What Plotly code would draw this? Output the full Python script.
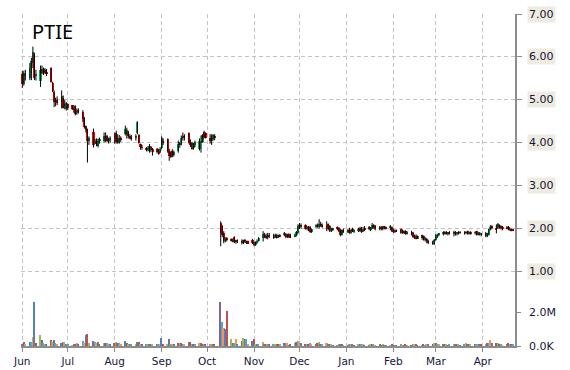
import numpy as np
import pandas as pd
import plotly.graph_objects as go

start_date = "2016-06-01"

# Daily OHLC (one line per month, business days Jun 2016 - Apr 2017)
opens = [
    5.60,5.38,5.60,5.50,5.62,5.85,6.05,5.55,5.45,5.72,5.62,5.70,5.66,5.74,5.40,5.18,4.95,5.00,4.95,5.05,4.85,4.78,
    4.90,4.87,4.78,4.86,4.70,4.75,4.72,4.58,4.38,4.30,4.05,4.25,4.00,4.00,3.92,4.05,4.05,4.15,4.15,4.05,4.08,
    4.10,4.22,4.12,4.00,4.10,4.20,4.20,4.25,4.15,4.12,4.12,4.22,4.17,3.98,3.90,3.88,3.84,3.80,3.90,3.85,3.85,3.84,3.78,
    3.87,4.05,4.08,3.80,3.78,3.80,3.72,3.80,3.98,3.96,4.10,4.15,4.22,4.00,4.00,3.88,3.95,3.85,4.00,4.02,4.25,4.22,
    4.12,4.05,4.08,4.15,None,2.13,2.06,1.90,1.72,1.76,1.74,1.71,1.80,1.70,1.72,1.70,1.70,1.74,1.68,1.70,1.74,
    1.66,1.64,1.68,1.72,1.78,1.86,1.82,1.80,1.86,1.86,1.80,1.84,1.82,1.84,1.85,1.88,1.84,1.88,1.86,1.82,1.84,1.90,
    2.05,2.08,2.08,2.00,2.02,2.04,1.94,2.05,2.08,2.04,2.10,2.08,2.06,2.10,2.05,1.96,1.98,2.02,2.02,1.94,1.86,1.96,
    1.94,1.96,1.92,2.00,1.94,1.96,2.02,2.00,1.94,2.00,2.04,1.98,2.02,2.08,2.06,2.00,2.04,1.98,2.04,2.02,2.02,2.04,
    1.98,1.94,1.96,1.98,1.92,1.94,1.94,1.88,1.92,1.90,1.80,1.82,1.78,1.84,1.82,1.74,1.76,1.70,1.68,1.64,
    1.74,1.80,1.86,1.88,1.90,1.92,1.88,1.90,1.88,1.90,1.88,1.90,1.92,1.90,1.92,1.94,1.88,1.90,1.90,1.94,1.86,1.90,1.86,
    1.90,1.84,1.86,1.98,2.04,2.02,2.02,2.08,2.04,2.02,2.02,2.04,1.98,1.98,1.98,
]
highs = [
    5.67,5.68,5.70,5.86,5.98,6.24,6.10,5.70,5.80,5.80,5.75,5.74,5.72,5.76,5.42,5.22,5.05,5.08,5.22,5.10,5.00,4.95,
    4.92,4.88,4.88,4.87,4.80,4.80,4.76,4.60,4.40,4.33,4.15,4.33,4.09,4.10,4.10,4.12,4.24,4.24,4.18,4.12,4.15,
    4.24,4.28,4.20,4.18,4.15,4.40,4.35,4.28,4.20,4.18,4.20,4.50,4.20,3.98,3.95,3.90,3.92,3.97,3.92,3.88,3.88,3.86,3.90,
    4.15,4.10,4.10,3.86,3.80,3.85,3.82,4.05,4.02,4.17,4.24,4.20,4.24,4.08,4.02,4.00,4.05,4.10,4.17,4.20,4.28,4.24,
    4.20,4.20,4.20,4.20,None,2.17,2.08,1.94,1.80,1.80,1.77,1.77,1.82,1.74,1.75,1.75,1.74,1.76,1.72,1.72,1.76,
    1.70,1.70,1.75,1.80,1.94,1.90,1.88,1.90,1.90,1.88,1.88,1.88,1.86,1.87,1.92,1.90,1.88,1.89,1.88,1.88,1.94,2.10,
    2.13,2.12,2.10,2.06,2.06,2.06,2.00,2.10,2.12,2.22,2.16,2.12,2.17,2.12,2.08,2.02,2.02,2.05,2.04,2.00,1.98,2.00,
    2.00,2.02,1.98,2.02,1.98,2.02,2.04,2.04,2.04,2.06,2.06,2.04,2.13,2.10,2.08,2.06,2.06,2.06,2.06,2.05,2.08,2.05,
    2.00,1.98,1.98,2.00,1.98,1.96,1.96,1.94,1.95,1.92,1.86,1.87,1.84,1.86,1.84,1.80,1.78,1.74,1.72,1.76,
    1.87,1.88,1.90,1.94,1.94,1.94,1.92,1.94,1.95,1.94,1.92,1.94,1.94,1.94,1.94,1.95,1.93,1.94,1.94,1.95,1.92,1.92,1.90,
    1.92,1.90,2.00,2.08,2.08,2.10,2.13,2.10,2.08,2.06,2.06,2.06,2.02,2.00,1.99,
]
lows = [
    5.28,5.33,5.45,5.46,5.46,5.74,5.46,5.45,5.30,5.60,5.58,5.60,5.55,5.40,5.18,4.83,4.85,4.88,4.80,4.80,4.78,4.75,
    4.76,4.76,4.70,4.64,4.65,4.68,4.48,4.33,4.24,3.54,3.95,3.89,3.98,3.92,3.89,3.98,4.00,4.02,4.02,3.98,4.00,
    3.98,3.98,3.98,3.98,4.02,4.17,4.10,4.10,4.08,4.05,4.05,4.20,3.98,3.84,3.84,3.80,3.80,3.77,3.78,3.70,3.75,3.72,3.76,
    3.85,3.95,3.77,3.58,3.65,3.66,3.68,3.77,3.88,3.94,4.05,4.05,3.98,3.90,3.84,3.84,3.90,3.82,3.77,4.00,4.10,4.10,
    3.98,3.95,4.05,4.06,None,1.59,1.80,1.66,1.68,1.70,1.70,1.68,1.66,1.65,1.66,1.63,1.64,1.66,1.64,1.64,1.64,
    1.59,1.60,1.65,1.70,1.70,1.78,1.76,1.75,1.78,1.76,1.78,1.77,1.78,1.80,1.82,1.78,1.78,1.78,1.78,1.80,1.82,1.89,
    1.99,2.00,1.98,1.96,1.94,1.90,1.90,2.02,2.02,2.00,2.04,2.02,1.94,1.96,1.92,1.92,1.94,1.96,1.92,1.82,1.84,1.90,
    1.90,1.88,1.88,1.92,1.90,1.92,1.92,1.90,1.92,1.94,1.96,1.94,1.99,2.00,1.96,1.96,1.96,1.96,1.98,1.98,1.96,1.92,
    1.90,1.90,1.92,1.88,1.88,1.88,1.86,1.86,1.84,1.78,1.76,1.75,1.76,1.74,1.72,1.70,1.66,1.64,1.62,1.62,
    1.72,1.78,1.82,1.84,1.86,1.86,1.84,1.86,1.82,1.84,1.84,1.86,1.88,1.86,1.87,1.86,1.86,1.86,1.86,1.84,1.84,1.84,1.82,
    1.80,1.80,1.84,1.96,1.98,1.89,1.99,2.00,1.98,1.96,1.98,1.96,1.94,1.94,1.94,
]
closes = [
    5.38,5.62,5.55,5.75,5.90,6.12,5.50,5.60,5.70,5.65,5.72,5.66,5.60,5.42,5.20,4.95,5.00,4.92,5.10,4.82,4.90,4.92,
    4.80,4.78,4.80,4.66,4.75,4.72,4.55,4.36,4.30,4.05,4.10,3.95,4.05,3.98,4.05,4.08,4.15,4.08,4.04,4.08,4.10,
    4.15,4.02,4.00,4.12,4.08,4.32,4.30,4.15,4.12,4.10,4.15,4.48,3.99,3.90,3.88,3.84,3.86,3.92,3.82,3.78,3.78,3.74,3.85,
    4.12,4.00,3.80,3.70,3.66,3.70,3.78,3.98,3.95,4.12,4.15,4.10,4.00,3.95,3.86,3.95,4.02,4.05,4.05,4.17,4.12,4.12,
    4.05,4.15,4.18,4.12,None,1.90,1.84,1.72,1.75,1.74,1.72,1.75,1.68,1.72,1.70,1.68,1.72,1.68,1.70,1.66,1.66,
    1.64,1.68,1.72,1.78,1.88,1.82,1.80,1.86,1.82,1.78,1.86,1.80,1.84,1.82,1.90,1.80,1.82,1.80,1.79,1.86,1.92,2.05,
    2.08,2.06,2.00,2.02,1.96,1.92,1.98,2.08,2.06,2.10,2.08,2.05,2.02,1.98,1.95,1.98,2.00,2.00,1.94,1.86,1.96,1.94,
    1.96,1.92,1.95,1.94,1.96,1.98,1.94,1.92,2.00,1.98,1.98,2.00,2.08,2.04,1.98,2.02,1.98,2.04,2.02,2.00,2.04,1.94,
    1.92,1.96,1.94,1.90,1.94,1.90,1.88,1.92,1.86,1.80,1.82,1.78,1.82,1.78,1.74,1.76,1.70,1.68,1.66,1.74,
    1.85,1.86,1.88,1.90,1.88,1.87,1.90,1.88,1.90,1.88,1.90,1.92,1.90,1.92,1.90,1.88,1.90,1.88,1.92,1.86,1.90,1.86,1.88,
    1.82,1.86,1.98,2.04,2.02,1.96,2.10,2.04,2.02,2.00,2.00,1.98,1.99,1.96,1.95,
]
# Daily volume in millions of shares
volumes_m = [
    0.08,0.26,0.06,0.26,0.26,0.55,2.62,0.15,0.65,0.35,0.15,0.12,0.10,0.35,0.26,0.35,0.20,0.10,0.20,0.26,0.26,0.12,
    0.10,0.05,0.12,0.12,0.20,0.08,0.32,0.15,0.67,0.73,0.15,0.32,0.22,0.20,0.22,0.12,0.15,0.20,0.20,0.10,0.12,
    0.20,0.22,0.15,0.20,0.08,0.32,0.15,0.10,0.06,0.08,0.10,0.22,0.22,0.10,0.10,0.08,0.10,0.10,0.08,0.06,0.10,0.06,0.08,
    0.50,0.10,0.08,0.40,0.12,0.10,0.06,0.20,0.20,0.15,0.10,0.06,0.26,0.26,0.10,0.10,0.08,0.15,0.15,0.10,0.10,0.06,
    0.10,0.10,0.08,0.10,None,2.60,1.42,1.09,0.99,2.08,0.42,0.20,0.20,0.42,0.12,0.30,0.50,0.42,0.42,0.10,0.30,
    0.42,0.10,0.08,0.10,0.26,0.12,0.10,0.08,0.06,0.10,0.12,0.08,0.10,0.08,0.15,0.20,0.15,0.05,0.08,0.20,0.26,0.30,
    0.30,0.15,0.10,0.08,0.10,0.15,0.08,0.12,0.15,0.22,0.12,0.10,0.15,0.10,0.12,0.06,0.05,0.04,0.08,0.12,0.06,0.05,
    0.03,0.10,0.06,0.08,0.05,0.06,0.10,0.08,0.06,0.05,0.03,0.06,0.10,0.06,0.05,0.06,0.05,0.08,0.05,0.04,0.05,0.06,
    0.05,0.04,0.05,0.06,0.04,0.05,0.06,0.04,0.05,0.08,0.06,0.10,0.05,0.03,0.06,0.05,0.08,0.06,0.10,0.15,
    0.20,0.10,0.08,0.06,0.08,0.06,0.05,0.08,0.10,0.06,0.08,0.06,0.05,0.12,0.20,0.10,0.08,0.06,0.10,0.12,0.08,0.10,0.06,
    0.12,0.15,0.20,0.35,0.15,0.20,0.15,0.10,0.08,0.05,0.12,0.15,0.10,0.12,0.06,
]

month_ticks = ["2016-06-01","2016-07-01","2016-08-01","2016-09-01","2016-10-01","2016-11-01",
               "2016-12-01","2017-01-01","2017-02-01","2017-03-01","2017-04-01"]
month_labels = ["Jun","Jul","Aug","Sep","Oct","Nov","Dec","Jan","Feb","Mar","Apr"]
price_ticks = [1, 2, 3, 4, 5, 6, 7]
price_labels = ["1.00","2.00","3.00","4.00","5.00","6.00","7.00"]
vol_ticks = [0, 2]
vol_labels = ["0.0K","2.0M"]
ticker = "PTIE"

n = len(closes)
assert len(opens) == n and len(highs) == n and len(lows) == n and len(volumes_m) == n, \
    (len(opens), len(highs), len(lows), len(closes), len(volumes_m))
dates = pd.bdate_range(start_date, periods=n)

o = np.array(opens, dtype=float)
h = np.array(highs, dtype=float)
l = np.array(lows, dtype=float)
c = np.array(closes, dtype=float)
v = np.array(volumes_m, dtype=float)

UP = "#00b050"
DOWN = "#ff0000"
body_colors = [UP if cc >= oo else DOWN for oo, cc in zip(o, c)]
palette = ["#4f81bd", "#c0504d", "#9bbb59", "#8064a2", "#4bacc6", "#f79646"]
vol_colors = [palette[i % len(palette)] for i in range(n)]

DAY_MS = 86400000

fig = go.Figure()

# volume
fig.add_trace(go.Bar(x=dates, y=v, yaxis="y2", marker=dict(color=vol_colors, line=dict(width=0)),
                     width=DAY_MS * 1.0, hoverinfo="skip", showlegend=False))

# candle bodies
fig.add_trace(go.Bar(x=dates, y=np.abs(c - o), base=np.fmin(o, c), yaxis="y",
                     marker=dict(color=body_colors, line=dict(width=0)),
                     width=DAY_MS * 1.4, hoverinfo="skip", showlegend=False))

# wicks
wx, wy = [], []
for d, hi, lo in zip(dates, h, l):
    if np.isnan(hi):
        continue
    wx += [d, d, None]
    wy += [lo, hi, None]
fig.add_trace(go.Scatter(x=wx, y=wy, mode="lines", line=dict(color="black", width=1),
                         hoverinfo="skip", showlegend=False, connectgaps=False))

label_font = dict(family="DejaVu Sans", size=11, color="#15153a")
annotations = []
for val, txt in zip(price_ticks, price_labels):
    annotations.append(dict(xref="paper", x=1, xanchor="left", xshift=12, yref="y", y=val,
                            yanchor="middle", text=txt, showarrow=False, bgcolor="#eeebe0",
                            borderpad=1, font=label_font))
for val, txt in zip(vol_ticks, vol_labels):
    annotations.append(dict(xref="paper", x=1, xanchor="left", xshift=12, yref="y2", y=val,
                            yanchor="middle", text=txt, showarrow=False, font=label_font))
annotations.append(dict(xref="paper", x=0.018, xanchor="left", yref="paper", y=0.995, yanchor="top",
                        text=ticker, showarrow=False, font=dict(family="Noto Sans", size=20, color="black")))

GRID = "#c4c4c4"
AXIS = "#8c8c8c"
fig.update_layout(
    width=570, height=370,
    margin=dict(l=21, r=55, t=14, b=24, autoexpand=False),
    paper_bgcolor="white", plot_bgcolor="white",
    barmode="overlay", bargap=0, showlegend=False, hovermode=False,
    xaxis=dict(type="date", range=["2016-05-31 03:24", "2017-04-22 07:00"],
               tickvals=month_ticks, ticktext=month_labels, automargin=False,
               showgrid=True, gridcolor=GRID, griddash="4px,3px", gridwidth=1,
               showline=True, linecolor=AXIS, linewidth=2,
               ticks="outside", ticklen=4, tickcolor=AXIS, tickwidth=1,
               tickfont=dict(family="DejaVu Sans", size=10.5, color="#15153a"),
               zeroline=False, rangeslider=dict(visible=False)),
    yaxis=dict(range=[-0.735, 7.0], side="right", tickvals=price_ticks, showticklabels=False,
               automargin=False,
               showgrid=True, gridcolor=GRID, griddash="4px,3px", gridwidth=1,
               showline=True, linecolor=AXIS, linewidth=2,
               ticks="outside", ticklen=5, tickcolor=AXIS, zeroline=False),
    yaxis2=dict(range=[0, 19.8], overlaying="y", side="right", tickvals=vol_ticks,
                showticklabels=False, showgrid=False, showline=False, automargin=False,
                ticks="outside", ticklen=5, tickcolor=AXIS, zeroline=False),
    annotations=annotations,
)

fig.write_html("out.html", config={"displayModeBar": False})
